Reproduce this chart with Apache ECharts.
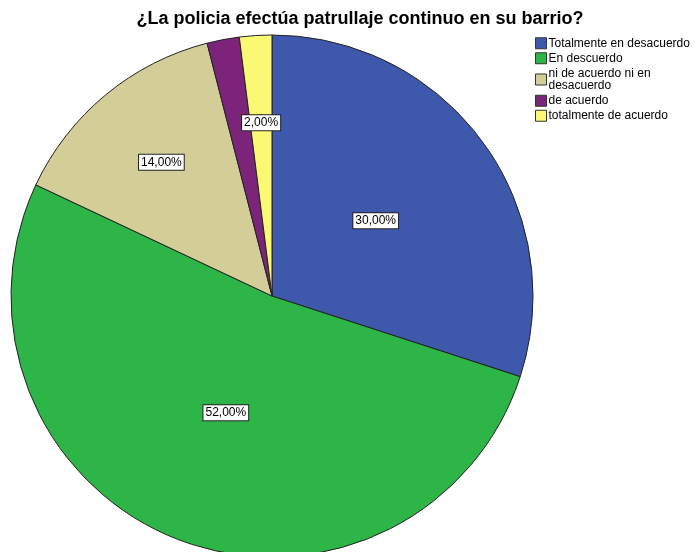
<!DOCTYPE html>
<html>
<head>
<meta charset="utf-8">
<script src="https://cdn.jsdelivr.net/npm/echarts@6/dist/echarts.min.js"></script>
<style>
  html, body { margin: 0; padding: 0; background: #fff; }
  #chart { width: 695px; height: 552px; }
</style>
</head>
<body>
<div id="chart"></div>
<script>
// datos del gráfico
const categories = ["Totalmente en desacuerdo", "En descuerdo", "ni de acuerdo ni en\ndesacuerdo", "de acuerdo", "totalmente de acuerdo"];
const values = [30, 52, 14, 2, 2];
const colors = ["#3e58ac", "#2eb548", "#d3ce97", "#7b2479", "#fbf873"];
const showLabel = [true, true, true, false, true];
// radio relativo de cada etiqueta (fracción del radio)
const labelRadius = [0.48, 0.47, 0.65, 0.65, 0.65];

const cx = 272, cy = 296, R = 261;

const chart = echarts.init(document.getElementById("chart"));

const option = {
  animation: false,
  title: {
    text: "¿La policia efectúa patrullaje continuo en su barrio?",
    left: 355,
    top: 5,
    textAlign: "center",
    textStyle: { fontFamily: "Liberation Sans", fontSize: 18, fontWeight: "bold", color: "#000" }
  },
  legend: {
    orient: "vertical",
    left: 530,
    top: 32,
    itemWidth: 11,
    itemHeight: 11,
    itemGap: 2.5,
    icon: "rect",
    textStyle: { fontFamily: "Liberation Sans", fontSize: 12, color: "#000", padding: [0, 0, 0, -3], lineHeight: 12.5 },
    itemStyle: { borderColor: "#333", borderWidth: 1 },
    data: categories
  },
  series: [{
    type: "pie",
    center: [cx, cy],
    radius: [0, R],
    startAngle: 90,
    clockwise: true,
    silent: true,
    itemStyle: { borderColor: "#222", borderWidth: 1 },
    label: {
      position: "inside",
      fontFamily: "Liberation Sans",
      fontSize: 12,
      color: "#000",
      backgroundColor: "#fff",
      borderColor: "#222",
      borderWidth: 1,
      padding: [2, 2, 1, 2],
      formatter: p => p.value.toFixed(2).replace(".", ",") + "%"
    },
    labelLine: { show: false },
    labelLayout: p => {
      const r = p.labelRect;
      const lx = r.x + r.width / 2, ly = r.y + r.height / 2;
      const k = labelRadius[p.dataIndex] / 0.5;
      return { x: cx + (lx - cx) * k, y: cy + (ly - cy) * k };
    },
    data: categories.map((name, i) => ({
      name: name,
      value: values[i],
      itemStyle: { color: colors[i] },
      label: { show: showLabel[i] }
    }))
  }]
};

chart.setOption(option);
</script>
</body>
</html>
